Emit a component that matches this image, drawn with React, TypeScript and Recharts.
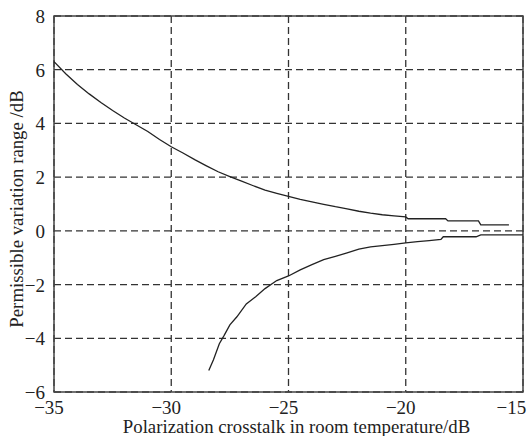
import React from "react";
import { LineChart, Line, XAxis, YAxis, CartesianGrid, ReferenceArea } from "recharts";

const xTicks = [-35, -30, -25, -20, -15];
const yTicks = [-6, -4, -2, 0, 2, 4, 6, 8];

const upperX = [-35, -34.5, -34, -33.5, -33, -32.5, -32, -31.5, -31, -30.5, -30, -29.5, -29, -28.5, -28, -27.5, -27, -26.5, -26, -25.5, -25, -24.5, -24, -23.5, -23, -22.5, -22, -21.5, -21, -20.5, -20, -19.9, -18.3, -18.2, -16.9, -16.8, -15.6];
const upperY = [6.3, 5.85, 5.45, 5.1, 4.78, 4.48, 4.2, 3.95, 3.7, 3.4, 3.13, 2.9, 2.65, 2.42, 2.2, 2.02, 1.85, 1.68, 1.52, 1.4, 1.28, 1.17, 1.08, 0.99, 0.9, 0.82, 0.73, 0.66, 0.6, 0.56, 0.52, 0.45, 0.45, 0.37, 0.37, 0.22, 0.22];

const lowerX = [-28.4, -28.2, -27.95, -27.75, -27.5, -27.2, -26.8, -26.4, -26, -25.5, -25, -24.5, -24, -23.5, -23, -22.5, -22, -21.5, -21, -20.5, -20, -19.5, -19, -18.5, -18.4, -17, -16.8, -15];
const lowerY = [-5.2, -4.8, -4.2, -3.9, -3.5, -3.2, -2.72, -2.45, -2.15, -1.85, -1.68, -1.45, -1.26, -1.07, -0.95, -0.82, -0.68, -0.6, -0.55, -0.5, -0.45, -0.4, -0.36, -0.32, -0.22, -0.22, -0.15, -0.15];

const upperData = upperX.map((x, i) => ({ x, y: upperY[i] }));
const lowerData = lowerX.map((x, i) => ({ x, y: lowerY[i] }));

const font = "Liberation Serif, Times New Roman, serif";
const fmt = (v: number) => (v < 0 ? "\u2212" + Math.abs(v) : String(v));

const XTick = (props: any) => {
  const { x, y, payload } = props;
  const last = payload.value === -15;
  return (
    <text x={x} y={y} dx={last ? -8 : -5} dy={16} textAnchor="middle" fontFamily={font} fontSize={19} fill="#222">
      {fmt(payload.value)}
    </text>
  );
};

const YTick = (props: any) => {
  const { x, y, payload } = props;
  return (
    <text x={x} y={y} dy={7} textAnchor="end" fontFamily={font} fontSize={19} fill="#222">
      {fmt(payload.value)}
    </text>
  );
};

const XLabel = (props: any) => {
  const vb = props.viewBox || {};
  const cx = (vb.x || 0) + (vb.width || 0) / 2 + 8;
  return (
    <text x={cx} y={433} textAnchor="middle" fontFamily={font} fontSize={18.8} fill="#222">
      Polarization crosstalk in room temperature/dB
    </text>
  );
};

const YLabel = (props: any) => {
  const vb = props.viewBox || {};
  const cy = (vb.y || 0) + (vb.height || 0) / 2 + 5;
  return (
    <text x={17} y={cy} transform={`rotate(-90, 17, ${cy})`} dy={6} textAnchor="middle" fontFamily={font} fontSize={18.8} fill="#222">
      Permissible variation range /dB
    </text>
  );
};

export default function App() {
  return (
    <div style={{ position: "absolute", left: 0, top: 0, background: "#fff", fontFamily: font }}>
      <LineChart width={530} height={436} margin={{ top: 16, right: 7, bottom: 0, left: 0 }}>
        <CartesianGrid stroke="#333" strokeWidth={1.3} strokeDasharray="7 4" />
        <XAxis
          dataKey="x"
          type="number"
          domain={[-35, -15]}
          ticks={xTicks}
          allowDuplicatedCategory={false}
          tickLine={false}
          axisLine={false}
          height={44}
          tickMargin={0}
          tick={<XTick />}
          label={<XLabel />}
        />
        <YAxis
          dataKey="y"
          type="number"
          domain={[-6, 8]}
          ticks={yTicks}
          tickLine={false}
          axisLine={false}
          width={54}
          tickMargin={3}
          tick={<YTick />}
          label={<YLabel />}
        />
        <ReferenceArea x1={-35} x2={-15} y1={-6} y2={8} fill="none" stroke="#444" strokeWidth={1.5} ifOverflow="visible" />
        <Line data={upperData} dataKey="y" type="linear" stroke="#222" strokeWidth={1.3} dot={false} isAnimationActive={false} />
        <Line data={lowerData} dataKey="y" type="linear" stroke="#222" strokeWidth={1.3} dot={false} isAnimationActive={false} />
      </LineChart>
    </div>
  );
}
